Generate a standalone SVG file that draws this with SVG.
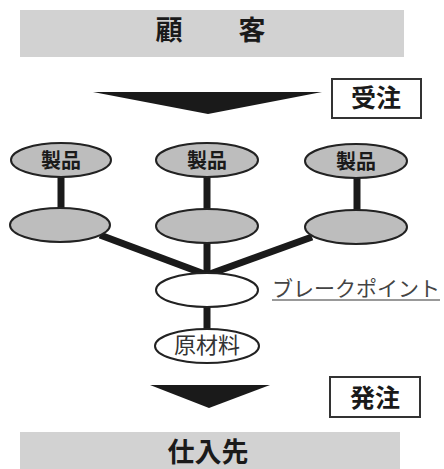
<svg xmlns="http://www.w3.org/2000/svg" width="444" height="469" viewBox="0 0 444 469">
<style>
.bar{fill:#d2d2d2;}
.jp{font-family:"Noto Sans CJK JP","Noto Sans CJK SC",sans-serif;fill:#1a1a1a;text-anchor:middle;dominant-baseline:central;}
.b{font-weight:bold;}
.g{fill:#bdbdbd;stroke:#222;stroke-width:2;}
.w{fill:#fff;stroke:#222;stroke-width:2;}
.lbl{fill:#fff;stroke:#333;stroke-width:2;}
.c{stroke:#1a1a1a;stroke-width:7;fill:none;}
.arr{fill:#1a1a1a;}
</style>
<rect width="444" height="469" fill="#fff"/>
<g id="customer">
<rect class="bar" x="20" y="10" width="384" height="47"/>
<text class="jp b" x="169" y="28" font-size="27">顧</text>
<text class="jp b" x="252" y="28" font-size="27">客</text>
</g>
<g id="arrow-top"><polygon class="arr" points="93,92 322,92 208,114"/></g>
<g id="juchu">
<rect class="lbl" x="332" y="79" width="89" height="39"/>
<text class="jp b" x="376" y="96" font-size="25">受注</text>
</g>
<g id="connectors">
<line class="c" x1="61" y1="177" x2="61" y2="209"/>
<line class="c" x1="207" y1="177" x2="207" y2="209"/>
<line class="c" x1="357" y1="178" x2="357" y2="210"/>
<line class="c" x1="100" y1="235" x2="207" y2="275"/>
<line class="c" x1="207" y1="242" x2="207" y2="275"/>
<line class="c" x1="312" y1="237" x2="207" y2="275"/>
<line class="c" x1="207" y1="306" x2="207" y2="331"/>
</g>
<g id="p1"><ellipse class="g" cx="61" cy="160" rx="50" ry="17"/><text class="jp b" x="61" y="159" font-size="20">製品</text></g>
<g id="p2"><ellipse class="g" cx="207" cy="160" rx="51" ry="17"/><text class="jp b" x="207" y="159" font-size="20">製品</text></g>
<g id="p3"><ellipse class="g" cx="356" cy="161" rx="51" ry="17"/><text class="jp b" x="356" y="160" font-size="20">製品</text></g>
<g id="m1"><ellipse class="g" cx="60" cy="225" rx="50" ry="17"/></g>
<g id="m2"><ellipse class="g" cx="207" cy="226" rx="51" ry="17"/></g>
<g id="m3"><ellipse class="g" cx="356" cy="227" rx="51" ry="17"/></g>
<g id="breakpoint"><ellipse class="w" cx="207" cy="290" rx="51" ry="17"/></g>
<g id="bp-label">
<text class="jp" x="356" y="287" font-size="21" style="fill:#444">ブレークポイント</text>
<line x1="272" y1="300" x2="440" y2="300" stroke="#777" stroke-width="1.5"/>
</g>
<g id="material"><ellipse class="w" cx="207" cy="346" rx="52" ry="17"/><text class="jp" x="207" y="343" font-size="22" style="fill:#333">原材料</text></g>
<g id="arrow-bottom"><polygon class="arr" points="150,385 270,385 209,408"/></g>
<g id="hatchu">
<rect class="lbl" x="330" y="377" width="90" height="40"/>
<text class="jp b" x="375" y="396" font-size="25">発注</text>
</g>
<g id="supplier">
<rect class="bar" x="20" y="432" width="380" height="37"/>
<text class="jp b" x="208" y="450" font-size="27">仕入先</text>
</g>
</svg>
